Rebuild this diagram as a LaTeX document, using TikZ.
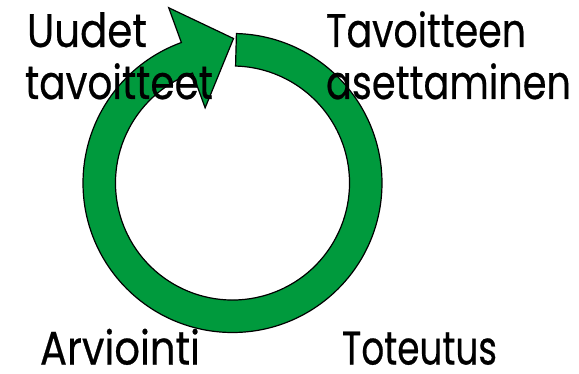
\documentclass[tikz,border=0pt]{standalone}
\usepackage{fontspec}
\setmainfont{Poppins}
\newfontfamily\lblfont{Poppins}[FakeBold=0.5]
\usepackage{graphicx}
\definecolor{ringgreen}{RGB}{0,154,61}
\tikzset{
  lbl/.style={anchor=base west, inner sep=0pt, outer sep=0pt, font=\lblfont\fontsize{47}{50}\selectfont},
  ringarrow/.style={draw=black, line width=1.2pt, fill=ringgreen, line join=miter}
}
\newcommand{\fitw}[2]{\resizebox{#1pt}{\height}{#2}}
\begin{document}
\begin{tikzpicture}[x=1pt,y=1pt]
\useasboundingbox (0,0) rectangle (579,373);
\begin{scope}[shift={(232.5,190)}]
  \coordinate (tip) at (89.6:144.5);
  \draw[ringarrow] (88.5:149.5) arc[start angle=88.5, end angle=-250, radius=149.5]
    -- (110:186.5) -- (tip) -- (110:80) -- (110:117)
    arc[start angle=-250, end angle=88.5, radius=117] -- cycle;
\end{scope}
\node[lbl] (uudet) at (27,326) {\fitw{120}{Uudet}};
\node[lbl] (tavoitteet) at (25,274) {\fitw{188}{tavoitteet}};
\node[lbl] (tavoitteen) at (326,326) {\fitw{200}{Tavoitteen}};
\node[lbl] (asettaminen) at (326,274) {\fitw{245}{asettaminen}};
\node[lbl] (arviointi) at (40,8.5) {\fitw{160}{Arviointi}};
\node[lbl] (toteutus) at (342,8.5) {\fitw{155}{Toteutus}};
\end{tikzpicture}
\end{document}
